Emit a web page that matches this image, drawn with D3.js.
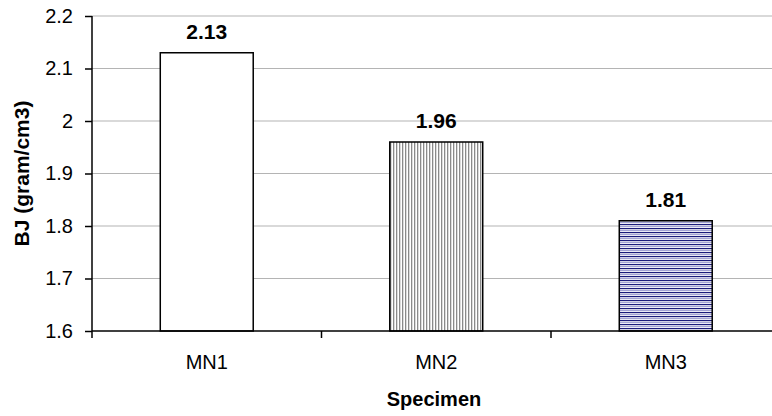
<!DOCTYPE html>
<html><head><meta charset="utf-8">
<script src="https://cdn.jsdelivr.net/npm/d3@7"></script>
<style>body{margin:0;background:#fff}svg{display:block}</style>
</head><body>
<svg id="c" width="772" height="416"></svg>
<script>
const categories = ["MN1", "MN2", "MN3"];
const values = [2.13, 1.96, 1.81];
const labels = ["2.13", "1.96", "1.81"];
const yTicks = [1.6, 1.7, 1.8, 1.9, 2, 2.1, 2.2];
const fills = ["white", "url(#vert)", "url(#horiz)"];

const svg = d3.select("#c");
const m = {left: 92, top: 16, right: 780.5, bottom: 331};
const font = "Liberation Sans, Arial, sans-serif";

const defs = svg.append("defs");
const pv = defs.append("pattern").attr("id","vert").attr("patternUnits","userSpaceOnUse").attr("width",3).attr("height",4);
pv.append("rect").attr("width",3).attr("height",4).attr("fill","#fff");
pv.append("rect").attr("x",0).attr("width",1.3).attr("height",4).attr("fill","#8a8a8a");
const ph = defs.append("pattern").attr("id","horiz").attr("patternUnits","userSpaceOnUse").attr("width",4).attr("height",4);
ph.append("rect").attr("width",4).attr("height",4).attr("fill","#fff");
ph.append("rect").attr("y",0).attr("width",4).attr("height",1.2).attr("fill","#1c1c7c");
ph.append("rect").attr("y",2).attr("width",4).attr("height",1.2).attr("fill","#a4a4d4");

const x = d3.scaleBand().domain(categories).range([m.left, m.right]).paddingInner(0.595).paddingOuter(0.2975);
const xb = d3.scaleBand().domain(categories).range([m.left, m.right]);
const y = d3.scaleLinear().domain([1.6, 2.2]).range([m.bottom, m.top]);

// gridlines
svg.append("g").selectAll("line").data(yTicks.filter(d => d > 1.6)).join("line")
  .attr("x1", m.left).attr("x2", m.right)
  .attr("y1", d => y(d)).attr("y2", d => y(d))
  .attr("stroke", "#b4b4b4").attr("stroke-width", 1.2);

// bars
svg.append("g").selectAll("rect").data(values).join("rect")
  .attr("x", (d,i) => x(categories[i]))
  .attr("width", x.bandwidth())
  .attr("y", d => y(d))
  .attr("height", d => y(1.6) - y(d))
  .attr("fill", (d,i) => fills[i])
  .attr("stroke", "#000").attr("stroke-width", 1.5);

// value labels
svg.append("g").selectAll("text").data(values).join("text")
  .attr("x", (d,i) => x(categories[i]) + x.bandwidth()/2)
  .attr("y", d => y(d) - 14)
  .attr("text-anchor", "middle")
  .attr("font-family", font).attr("font-weight", "bold").attr("font-size", 21)
  .text((d,i) => labels[i]);

// y axis
const ya = svg.append("g").attr("transform", `translate(${m.left},0)`)
  .call(d3.axisLeft(y).tickValues(yTicks).tickSize(7).tickPadding(12).tickFormat(d3.format("~g")));
ya.select(".domain").attr("stroke","#000").attr("stroke-width",1.5).attr("d", `M0,${m.top}V${m.bottom+7}`);
ya.selectAll(".tick line").attr("stroke","#000").attr("stroke-width",1.5);
ya.selectAll("text").attr("font-family", font).attr("font-size", 20).attr("fill","#000");

// x axis
const xa = svg.append("g").attr("transform", `translate(0,${m.bottom})`)
  .call(d3.axisBottom(xb).tickSize(0).tickPadding(24));
xa.select(".domain").attr("stroke","#000").attr("stroke-width",1.5).attr("d", `M${m.left},0H${m.right}`);
xa.selectAll("text").attr("font-family", font).attr("font-size", 20).attr("fill","#000");
svg.append("g").selectAll("line").data(categories.slice(1)).join("line")
  .attr("x1", d => xb(d)).attr("x2", d => xb(d))
  .attr("y1", m.bottom).attr("y2", m.bottom + 7)
  .attr("stroke", "#000").attr("stroke-width", 1.5);

// titles
svg.append("text").attr("x", 434).attr("y", 406).attr("text-anchor","middle")
  .attr("font-family", font).attr("font-weight","bold").attr("font-size",20).text("Specimen");
svg.append("text").attr("transform", `translate(29,${(m.top+m.bottom)/2}) rotate(-90)`)
  .attr("text-anchor","middle")
  .attr("font-family", font).attr("font-weight","bold").attr("font-size",21).text("BJ (gram/cm3)");
</script>
</body></html>
